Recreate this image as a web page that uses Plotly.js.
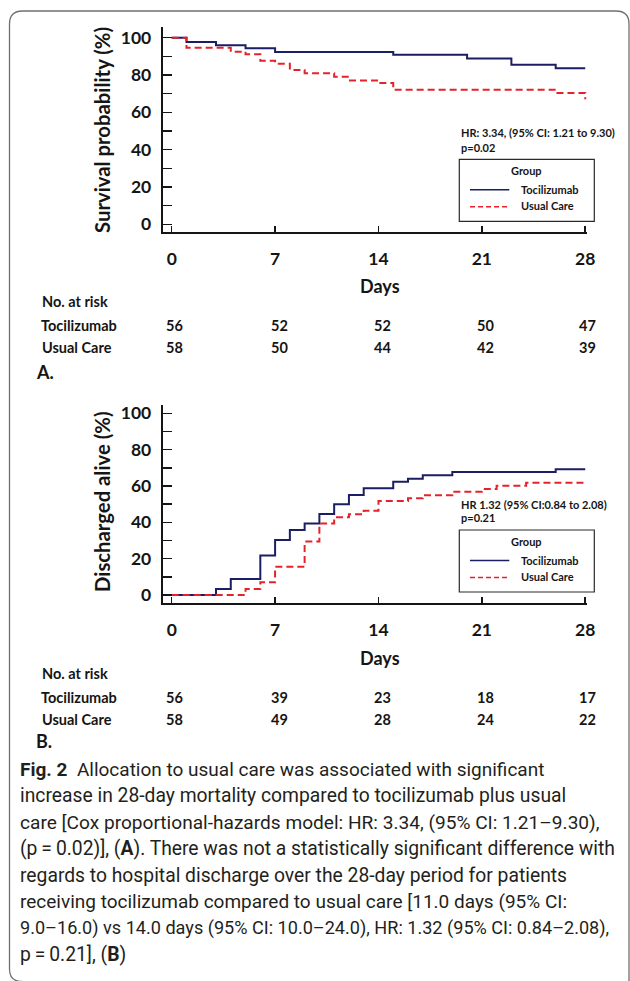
<!DOCTYPE html>
<html>
<head>
<meta charset="utf-8">
<script src="https://cdn.plot.ly/plotly-3.0.1.min.js"></script>
<style>
html,body{margin:0;padding:0;background:#fff;}
#chart{width:630px;height:981px;}
</style>
</head>
<body>
<div id="chart"></div>
<script>
// ---------- DATA ----------
// Panel A: survival probability (%)
const daysTocA = [0, 1, 3, 5, 7, 15, 20, 23, 26, 28];
const survTocA = [100, 97.7, 95.9, 94.3, 92.3, 90.9, 88.9, 85.5, 83.6, 83.6];
const daysUcA  = [0, 1, 4, 5, 6, 7, 8, 9, 11, 12, 14, 15, 26, 28];
const survUcA  = [100, 94.6, 92.5, 91.1, 87.7, 86.1, 82.7, 80.9, 79.1, 77.1, 75.7, 72.1, 70.4, 67.0];
// Panel B: discharged alive (%)
const daysTocB = [0, 3, 4, 6, 7, 8, 9, 10, 11, 12, 13, 15, 16, 17, 19, 26, 28];
const dischTocB = [0, 3.3, 8.8, 21.7, 30.3, 35.8, 39.4, 44.6, 49.9, 55.0, 58.7, 62.4, 64.0, 65.9, 67.7, 69.2, 69.2];
const daysUcB  = [0, 5, 6, 7, 9, 10, 11, 12, 13, 14, 16, 17, 19, 21, 22, 24, 28];
const dischUcB = [0, 3.3, 7.0, 15.6, 29.4, 39.4, 42.8, 44.4, 46.4, 51.7, 53.2, 54.9, 56.9, 58.3, 60.2, 61.8, 61.8];
// Tick labels and at-risk tables
const dayTicks = [0, 7, 14, 21, 28];
const yTicks = [0, 20, 40, 60, 80, 100];
const yMinor = [10, 30, 50, 70, 90];
const groups = ['Tocilizumab', 'Usual Care'];
const riskTocA = [56, 52, 52, 50, 47];
const riskUcA  = [58, 50, 44, 42, 39];
const riskTocB = [56, 39, 23, 18, 17];
const riskUcB  = [58, 49, 28, 24, 22];
const captionLines = [
  '<b>Fig. 2</b>  Allocation to usual care was associated with significant',
  'increase in 28-day mortality compared to tocilizumab plus usual',
  'care [Cox proportional-hazards model: HR: 3.34, (95% CI: 1.21\u20139.30),',
  '(p\u2009=\u20090.02)], (<b>A</b>). There was not a statistically significant difference with',
  'regards to hospital discharge over the 28-day period for patients',
  'receiving tocilizumab compared to usual care [11.0 days (95% CI:',
  '9.0\u201316.0) vs 14.0 days (95% CI: 10.0\u201324.0), HR: 1.32 (95% CI: 0.84\u20132.08),',
  'p\u2009=\u20090.21], (<b>B</b>)'
];
const captionSizes = [19.0, 19.3, 19.1, 19.3, 19.3, 19.0, 18.1, 19.3];

// ---------- LAYOUT HELPERS ----------
const W = 630, H = 981;
const px = x => x / W;
const py = y => 1 - y / H;
const NAVY = '#1b1e63', RED = '#e52229', INK = '#151515';
const F = 'Lato, "Open Sans", sans-serif';

function xAxis(anchor){
  return {
    anchor: anchor, domain: [px(162.7), px(587)], range: [-0.61, 28.12],
    tickvals: dayTicks, ticktext: dayTicks.map(String),
    ticks: 'inside', ticklen: 6, tickwidth: 1.5, tickcolor: INK,
    showline: true, linewidth: 2, linecolor: INK, showgrid: false, zeroline: false,
    tickfont: {family: F, size: 17.5, color: INK, weight: 'bold'},
    ticklabelstandoff: 10, fixedrange: true
  };
}
function yAxis(anchor, top, bottom, rng){
  return {
    anchor: anchor, domain: [py(bottom), py(top)], range: rng,
    tickvals: yTicks, ticktext: yTicks.map(String),
    ticks: 'inside', ticklen: 9, tickwidth: 1.5, tickcolor: INK,
    minor: {tickvals: yMinor, ticks: 'inside', ticklen: 9, tickwidth: 1.5, tickcolor: INK},
    showline: true, linewidth: 2, linecolor: INK, showgrid: false, zeroline: false,
    tickfont: {family: F, size: 17.5, color: INK, weight: 'bold'},
    ticklabelstandoff: 6, fixedrange: true
  };
}

const traces = [
  {x: daysTocA, y: survTocA, xaxis: 'x', yaxis: 'y', mode: 'lines', line: {shape: 'hv', color: NAVY, width: 2}, showlegend: false, hoverinfo: 'skip'},
  {x: daysUcA, y: survUcA, xaxis: 'x', yaxis: 'y', mode: 'lines', line: {shape: 'hv', color: RED, width: 2, dash: '7px,4px'}, showlegend: false, hoverinfo: 'skip'},
  {x: daysTocB, y: dischTocB, xaxis: 'x2', yaxis: 'y2', mode: 'lines', line: {shape: 'hv', color: NAVY, width: 2}, showlegend: false, hoverinfo: 'skip'},
  {x: daysUcB, y: dischUcB, xaxis: 'x2', yaxis: 'y2', mode: 'lines', line: {shape: 'hv', color: RED, width: 2, dash: '7px,4px'}, showlegend: false, hoverinfo: 'skip'}
];

const ann = [];
const shapes = [];
function txt(text, x, y, opts){
  opts = opts || {};
  ann.push({
    text: text, xref: 'paper', yref: 'paper', x: px(x), y: py(y),
    xanchor: opts.xa || 'center', yanchor: 'middle', showarrow: false,
    textangle: opts.angle || 0,
    font: {family: opts.family || F, size: opts.size || 14, color: opts.color || INK, weight: opts.weight || 'normal'}
  });
}
function legendBlock(top, hrText, pText, hrY, pY){
  shapes.push({type: 'rect', xref: 'paper', yref: 'paper', x0: px(459.3), x1: px(594.3), y0: py(top), y1: py(top + 62), line: {color: '#2a2a2a', width: 1.2}, fillcolor: 'rgba(0,0,0,0)'});
  txt('<b>' + hrText + '</b>', 459, hrY, {xa: 'left', size: 11});
  txt('<b>' + pText + '</b>', 459, pY, {xa: 'left', size: 11});
  txt('<b>Group</b>', 526.7, top + 11, {size: 11});
  shapes.push({type: 'line', xref: 'paper', yref: 'paper', x0: px(470), x1: px(509.3), y0: py(top + 30.5), y1: py(top + 30.5), line: {color: NAVY, width: 1.5}});
  shapes.push({type: 'line', xref: 'paper', yref: 'paper', x0: px(470), x1: px(509.3), y0: py(top + 47.5), y1: py(top + 47.5), line: {color: RED, width: 1.5, dash: '5px,3px'}});
  txt('<b>' + groups[0] + '</b>', 519.3, top + 30, {xa: 'left', size: 11});
  txt('<b>' + groups[1] + '</b>', 519.3, top + 46.5, {xa: 'left', size: 11});
}
const colX = [174, 279, 383, 485, 587];
function riskTable(daysY, headY, r1Y, r2Y, lblY, v1, v2, label){
  txt('<b>Days</b>', 380, daysY, {size: 18});
  txt('<b>No. at risk</b>', 40, headY, {xa: 'left', size: 14.5});
  txt('<b>' + groups[0] + '</b>', 39, r1Y, {xa: 'left', size: 14.5});
  txt('<b>' + groups[1] + '</b>', 40, r2Y, {xa: 'left', size: 14.5});
  for (let i = 0; i < colX.length; i++){
    txt('<b>' + v1[i] + '</b>', colX[i], r1Y, {size: 14.5});
    txt('<b>' + v2[i] + '</b>', colX[i], r2Y, {size: 14.5});
  }
  txt('<b>' + label + '</b>', 34, lblY, {xa: 'left', size: 18});
}

// Y-axis titles
txt('<b>Survival probability (%)</b>', 102, 130, {size: 20.3, angle: -90});
txt('<b>Discharged alive (%)</b>', 102, 502, {size: 20.3, angle: -90});
// Legends & stats
legendBlock(159.3, 'HR: 3.34, (95% CI: 1.21 to 9.30)', 'p=0.02', 132.5, 147);
legendBlock(530, 'HR 1.32 (95% CI:0.84 to 2.08)', 'p=0.21', 504, 517.5);
// Tables
riskTable(286, 302, 325, 347, 372, riskTocA, riskUcA, 'A.');
riskTable(658, 673, 697, 719, 741, riskTocB, riskUcB, 'B.');
// Caption
const capY0 = 769, capStep = 26.5;
captionLines.forEach((line, i) => {
  txt(line, 18, capY0 + i * capStep, {xa: 'left', size: captionSizes[i], family: 'Roboto, "Open Sans", sans-serif', color: '#231f20'});
});
// Figure frame (rounded box)
shapes.push({
  type: 'path', xref: 'paper', yref: 'paper',
  path: 'M ' + px(22) + ',' + py(981.5) +
        ' Q ' + px(9.5) + ',' + py(981.5) + ' ' + px(9.5) + ',' + py(969) +
        ' L ' + px(9.5) + ',' + py(24) +
        ' Q ' + px(9.5) + ',' + py(11) + ' ' + px(22.5) + ',' + py(11) +
        ' L ' + px(616) + ',' + py(11) +
        ' Q ' + px(629) + ',' + py(11) + ' ' + px(629) + ',' + py(24) +
        ' L ' + px(629) + ',' + py(990),
  line: {color: '#707070', width: 1.3}
});

const layout = {
  width: W, height: H, margin: {l: 0, r: 0, t: 0, b: 0},
  paper_bgcolor: '#fff', plot_bgcolor: 'rgba(0,0,0,0)',
  font: {family: F, color: INK},
  xaxis: xAxis('y'),
  yaxis: yAxis('x', 26.7, 232, [-4.13, 105.9]),
  xaxis2: xAxis('y2'),
  yaxis2: yAxis('x2', 405, 603.3, [-4.57, 104.6]),
  annotations: ann, shapes: shapes, showlegend: false
};
Plotly.newPlot('chart', traces, layout, {staticPlot: true, displayModeBar: false});
</script>
</body>
</html>
